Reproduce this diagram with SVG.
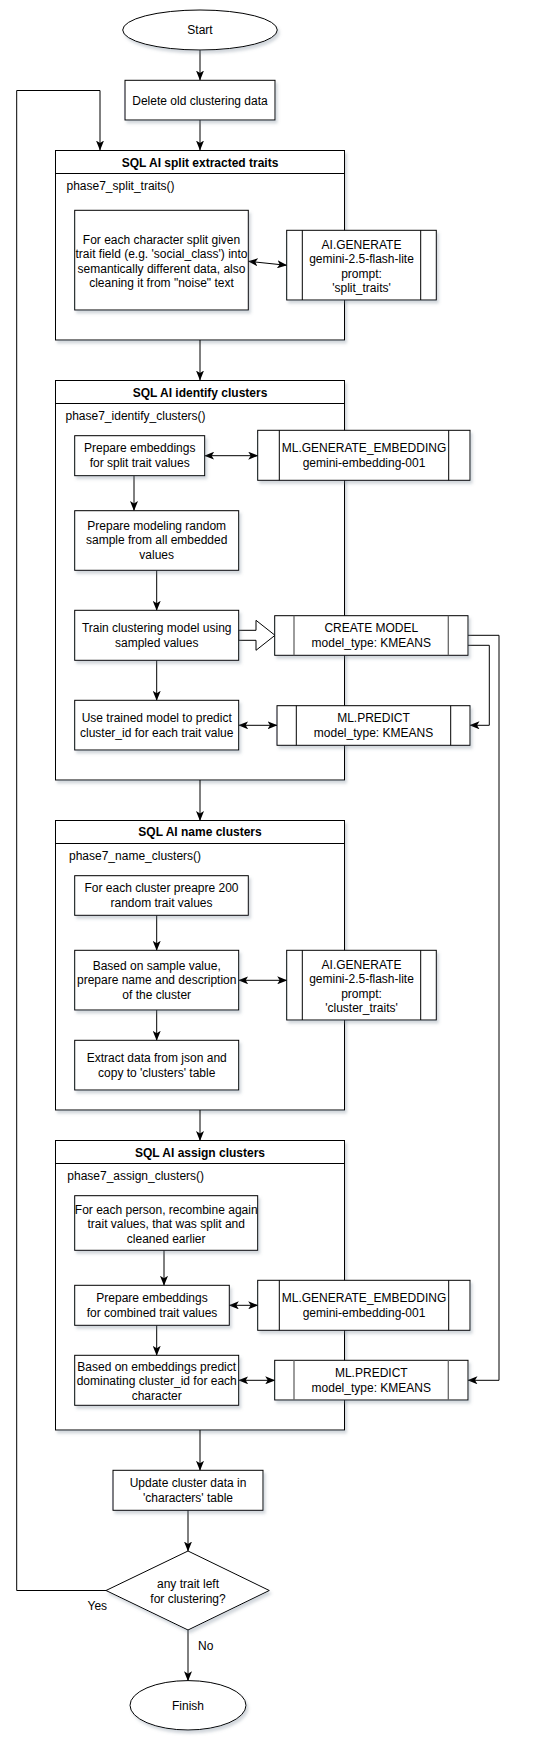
<svg xmlns="http://www.w3.org/2000/svg" width="542" height="1747" viewBox="0 0 542 1747">
<style>
text{font-family:"Liberation Sans",Arial,sans-serif;font-size:12px;fill:#000}
.c{text-anchor:middle}
.b{font-weight:bold}
.box{fill:#fff;stroke:#000;stroke-width:1}
.sh{filter:url(#shadow)}
.in{stroke:#000;stroke-width:1;fill:none}
.ing{stroke:#666;stroke-width:1.3;fill:none}
.ln{stroke:#000;stroke-width:1;fill:none}
.a{marker-end:url(#arr)}
.aa{marker-start:url(#arr);marker-end:url(#arr)}
</style>
<defs>
<filter id="shadow" x="-10%" y="-10%" width="130%" height="130%">
<feDropShadow dx="2" dy="3" stdDeviation="1.5" flood-color="#6a7a8c" flood-opacity="0.3"/>
</filter>
<marker id="arr" viewBox="0 0 10 8" refX="9.5" refY="4" markerWidth="10" markerHeight="8" markerUnits="userSpaceOnUse" orient="auto-start-reverse">
<path d="M0,0 L10,4 L0,8 L2.5,4 Z" fill="#000"/>
</marker>
</defs>

<rect width="542" height="1747" fill="#fff"/>

<!-- containers -->
<g id="container1">
<rect class="box sh" x="55.5" y="150.5" width="289" height="189.5"/>
<line class="ln" x1="55.5" y1="173.5" x2="344.5" y2="173.5"/>
<text class="c b" x="200" y="166.7">SQL AI split extracted traits</text>
<text x="66.5" y="189.7">phase7_split_traits()</text>
</g>
<g id="container2">
<rect class="box sh" x="55.5" y="380.5" width="289" height="399.5"/>
<line class="ln" x1="55.5" y1="403.5" x2="344.5" y2="403.5"/>
<text class="c b" x="200" y="396.7">SQL AI identify clusters</text>
<text x="65.5" y="419.7">phase7_identify_clusters()</text>
</g>
<g id="container3">
<rect class="box sh" x="55.5" y="820.5" width="289" height="289.5"/>
<line class="ln" x1="55.5" y1="843.5" x2="344.5" y2="843.5"/>
<text class="c b" x="200" y="836.4">SQL AI name clusters</text>
<text x="69" y="859.7">phase7_name_clusters()</text>
</g>
<g id="container4">
<rect class="box sh" x="55.5" y="1140.5" width="289" height="289.5"/>
<line class="ln" x1="55.5" y1="1163.5" x2="344.5" y2="1163.5"/>
<text class="c b" x="200" y="1156.7">SQL AI assign clusters</text>
<text x="67.3" y="1179.7">phase7_assign_clusters()</text>
</g>

<!-- connectors -->
<g id="connectors">
<line class="ln a" x1="200" y1="50" x2="200" y2="80"/>
<line class="ln a" x1="200" y1="120" x2="200" y2="150"/>
<polyline class="ln a" points="106,1590.5 16.7,1590.5 16.7,90.5 100,90.5 100,150"/>
<line class="ln aa" x1="248.3" y1="261.3" x2="286.7" y2="265.3"/>
<line class="ln a" x1="200" y1="340" x2="200" y2="380"/>
<line class="ln aa" x1="204.7" y1="455.7" x2="257.7" y2="455.7"/>
<line class="ln a" x1="134" y1="475.7" x2="134" y2="510.5"/>
<line class="ln a" x1="156.7" y1="570.3" x2="156.7" y2="610.3"/>
<polygon class="box" points="238.7,630.3 256,630.3 256,620.3 275,635.3 256,650.3 256,640.3 238.7,640.3"/>
<line class="ln a" x1="156.7" y1="660.3" x2="156.7" y2="700.3"/>
<line class="ln aa" x1="238.7" y1="725.3" x2="277" y2="725.3"/>
<polyline class="ln a" points="468,645.3 489.3,645.3 489.3,725.3 470,725.3"/>
<polyline class="ln a" points="468,635.3 499,635.3 499,1380.3 468,1380.3"/>
<line class="ln a" x1="200" y1="780" x2="200" y2="820.5"/>
<line class="ln a" x1="156.7" y1="915.3" x2="156.7" y2="950.3"/>
<line class="ln aa" x1="238.7" y1="980.3" x2="286.7" y2="980.3"/>
<line class="ln a" x1="156.7" y1="1010" x2="156.7" y2="1040.3"/>
<line class="ln a" x1="200" y1="1110" x2="200" y2="1140.5"/>
<line class="ln a" x1="164" y1="1250.3" x2="164" y2="1285.3"/>
<line class="ln aa" x1="229.3" y1="1305.3" x2="257.7" y2="1305.3"/>
<line class="ln a" x1="156.7" y1="1325.3" x2="156.7" y2="1355.3"/>
<line class="ln aa" x1="238.7" y1="1380.3" x2="274.7" y2="1380.3"/>
<line class="ln a" x1="200" y1="1430" x2="200" y2="1470.3"/>
<line class="ln a" x1="188" y1="1510.3" x2="188" y2="1551"/>
<line class="ln a" x1="188" y1="1630" x2="188" y2="1680.7"/>
<text x="87.5" y="1609.8">Yes</text>
<text x="198" y="1649.8">No</text>
</g>

<!-- nodes -->
<g id="start">
<ellipse class="box sh" cx="200" cy="30" rx="77.3" ry="20"/>
<text class="c" x="200" y="34.2">Start</text>
</g>
<g id="delete">
<rect class="box sh" x="125" y="80.3" width="150" height="39.7"/>
<text class="c" x="200" y="104.5">Delete old clustering data</text>
</g>

<g id="split">
<rect class="box sh" x="74.7" y="210.3" width="173.6" height="99.7"/>
<text class="c" x="161.5" y="244.2">For each character split given</text>
<text class="c" x="161.5" y="258.4">trait field (e.g. 'social_class') into</text>
<text class="c" x="161.5" y="272.9">semantically different data, also</text>
<text class="c" x="161.5" y="286.9">cleaning it from "noise" text</text>
</g>
<g id="aigen1">
<rect class="box sh" x="286.7" y="230.3" width="149.6" height="69.7"/>
<line class="in" x1="302.3" y1="230.3" x2="302.3" y2="300"/>
<line class="in" x1="420.7" y1="230.3" x2="420.7" y2="300"/>
<text class="c" x="361.5" y="249.2">AI.GENERATE</text>
<text class="c" x="361.5" y="263.2">gemini-2.5-flash-lite</text>
<text class="c" x="361.5" y="277.9">prompt:</text>
<text class="c" x="361.5" y="291.5">'split_traits'</text>
</g>

<g id="prep-emb1">
<rect class="box sh" x="74.7" y="435.7" width="130" height="40"/>
<text class="c" x="139.7" y="452.2">Prepare embeddings</text>
<text class="c" x="139.7" y="467.2">for split trait values</text>
</g>
<g id="mlemb1">
<rect class="box sh" x="257.7" y="430.3" width="212.3" height="50"/>
<line class="in" x1="279.3" y1="430.3" x2="279.3" y2="480.3"/>
<line class="in" x1="448.7" y1="430.3" x2="448.7" y2="480.3"/>
<text class="c" x="364" y="452.2">ML.GENERATE_EMBEDDING</text>
<text class="c" x="364" y="467.2">gemini-embedding-001</text>
</g>
<g id="sample">
<rect class="box sh" x="74.7" y="510.7" width="164" height="59.6"/>
<text class="c" x="156.7" y="530.2">Prepare modeling random</text>
<text class="c" x="156.7" y="544.2">sample from all embedded</text>
<text class="c" x="156.7" y="558.8">values</text>
</g>
<g id="train">
<rect class="box sh" x="74.7" y="610.3" width="164" height="50"/>
<text class="c" x="156.7" y="632.2">Train clustering model using</text>
<text class="c" x="156.7" y="647.2">sampled values</text>
</g>
<g id="createmodel">
<rect class="box sh" x="274.7" y="615.7" width="193.3" height="39.6"/>
<line class="ing" x1="294" y1="615.7" x2="294" y2="655.3"/>
<line class="ing" x1="448.3" y1="615.7" x2="448.3" y2="655.3"/>
<text class="c" x="371.3" y="632.2">CREATE MODEL</text>
<text class="c" x="371.3" y="647.2">model_type: KMEANS</text>
</g>
<g id="usemodel">
<rect class="box sh" x="74.7" y="700.3" width="164" height="49.7"/>
<text class="c" x="156.7" y="722.2">Use trained model to predict</text>
<text class="c" x="156.7" y="737.2">cluster_id for each trait value</text>
</g>
<g id="predict1">
<rect class="box sh" x="277" y="705.7" width="193" height="39.6"/>
<line class="in" x1="296.3" y1="705.7" x2="296.3" y2="745.3"/>
<line class="in" x1="450.7" y1="705.7" x2="450.7" y2="745.3"/>
<text class="c" x="373.5" y="722.2">ML.PREDICT</text>
<text class="c" x="373.5" y="737.2">model_type: KMEANS</text>
</g>

<g id="cluster-sample">
<rect class="box sh" x="74.7" y="875.7" width="173.6" height="39.6"/>
<text class="c" x="161.5" y="892.2">For each cluster preapre 200</text>
<text class="c" x="161.5" y="907.2">random trait values</text>
</g>
<g id="name">
<rect class="box sh" x="74.7" y="950.3" width="164" height="59.7"/>
<text class="c" x="156.7" y="970.2">Based on sample value,</text>
<text class="c" x="156.7" y="984.2">prepare name and description</text>
<text class="c" x="156.7" y="998.9">of the cluster</text>
</g>
<g id="aigen2">
<rect class="box sh" x="286.7" y="950.3" width="149.6" height="69.7"/>
<line class="in" x1="302.3" y1="950.3" x2="302.3" y2="1020"/>
<line class="in" x1="420.7" y1="950.3" x2="420.7" y2="1020"/>
<text class="c" x="361.5" y="969.2">AI.GENERATE</text>
<text class="c" x="361.5" y="983.2">gemini-2.5-flash-lite</text>
<text class="c" x="361.5" y="997.9">prompt:</text>
<text class="c" x="361.5" y="1011.5">'cluster_traits'</text>
</g>
<g id="extract">
<rect class="box sh" x="74.7" y="1040.3" width="164" height="49.7"/>
<text class="c" x="156.7" y="1062.2">Extract data from json and</text>
<text class="c" x="156.7" y="1077.2">copy to 'clusters' table</text>
</g>

<g id="recombine">
<rect class="box sh" x="74.7" y="1195.7" width="183" height="54.6"/>
<text class="c" x="166.2" y="1213.5">For each person, recombine again</text>
<text class="c" x="166.2" y="1227.9">trait values, that was split and</text>
<text class="c" x="166.2" y="1242.5">cleaned earlier</text>
</g>
<g id="prep-emb2">
<rect class="box sh" x="74.7" y="1285.3" width="154.6" height="40"/>
<text class="c" x="152" y="1302.2">Prepare embeddings</text>
<text class="c" x="152" y="1317.2">for combined trait values</text>
</g>
<g id="mlemb2">
<rect class="box sh" x="257.7" y="1280.3" width="212.3" height="50"/>
<line class="in" x1="279.3" y1="1280.3" x2="279.3" y2="1330.3"/>
<line class="in" x1="448.7" y1="1280.3" x2="448.7" y2="1330.3"/>
<text class="c" x="364" y="1302.2">ML.GENERATE_EMBEDDING</text>
<text class="c" x="364" y="1317.2">gemini-embedding-001</text>
</g>
<g id="assign">
<rect class="box sh" x="74.7" y="1355.3" width="164" height="50"/>
<text class="c" x="156.7" y="1371.2">Based on embeddings predict</text>
<text class="c" x="156.7" y="1385.2">dominating cluster_id for each</text>
<text class="c" x="156.7" y="1399.9">character</text>
</g>
<g id="predict2">
<rect class="box sh" x="274.7" y="1360.3" width="193.3" height="39.7"/>
<line class="ing" x1="294" y1="1360.3" x2="294" y2="1400"/>
<line class="ing" x1="448.3" y1="1360.3" x2="448.3" y2="1400"/>
<text class="c" x="371.3" y="1377.2">ML.PREDICT</text>
<text class="c" x="371.3" y="1392.2">model_type: KMEANS</text>
</g>

<g id="update">
<rect class="box sh" x="113" y="1470.3" width="150" height="40"/>
<text class="c" x="188" y="1487.2">Update cluster data in</text>
<text class="c" x="188" y="1502.2">'characters' table</text>
</g>
<g id="decision">
<polygon class="box sh" points="188,1551 269.3,1590.5 188,1630 106,1590.5"/>
<text class="c" x="188" y="1587.9">any trait left</text>
<text class="c" x="188" y="1602.9">for clustering?</text>
</g>
<g id="finish">
<ellipse class="box sh" cx="188" cy="1705.3" rx="58" ry="24.7"/>
<text class="c" x="188" y="1709.5">Finish</text>
</g>
</svg>
